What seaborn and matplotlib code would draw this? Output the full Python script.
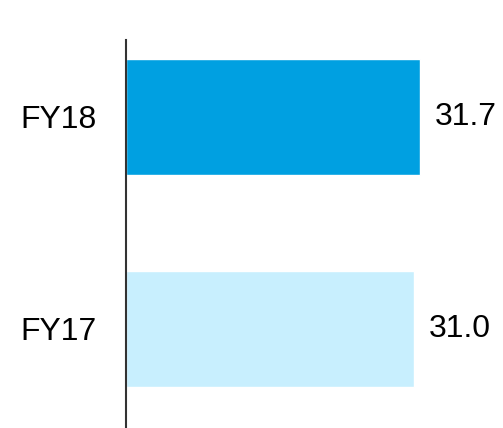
import matplotlib
matplotlib.use("Agg")
import matplotlib.pyplot as plt
import seaborn as sns
import pandas as pd

years = ["FY18", "FY17"]
values = [31.7, 31.0]
colors = ["#00A0E1", "#C8EFFE"]

sns.set_theme(style="white")
plt.rcParams["font.family"] = ["Liberation Sans", "DejaVu Sans"]

df = pd.DataFrame({"year": years, "value": values})

fig = plt.figure(figsize=(5.03, 4.28), dpi=100)
ax = fig.add_axes([126 / 503, 0, 377 / 503, 388 / 428])

sns.barplot(data=df, x="value", y="year", order=years, hue="year",
            palette=colors, legend=False, width=0.547, ax=ax, saturation=1)

ax.set_xlim(0, 40.6)
ax.set_ylim(1.467, -0.363)

for i, v in enumerate(values):
    ax.text(v + 1.6, i, f"{v:.1f}", va="center", ha="left", fontsize=23,
            color="black")

ax.set_xlabel("")
ax.set_ylabel("")
ax.set_xticks([])
ax.tick_params(axis="y", length=0, pad=21, labelsize=23, labelcolor="black")
for side in ["top", "right", "bottom"]:
    ax.spines[side].set_visible(False)
ax.spines["left"].set_color("#333333")
ax.spines["left"].set_linewidth(1.5)

fig.savefig("out.png", dpi=100, facecolor="white")
